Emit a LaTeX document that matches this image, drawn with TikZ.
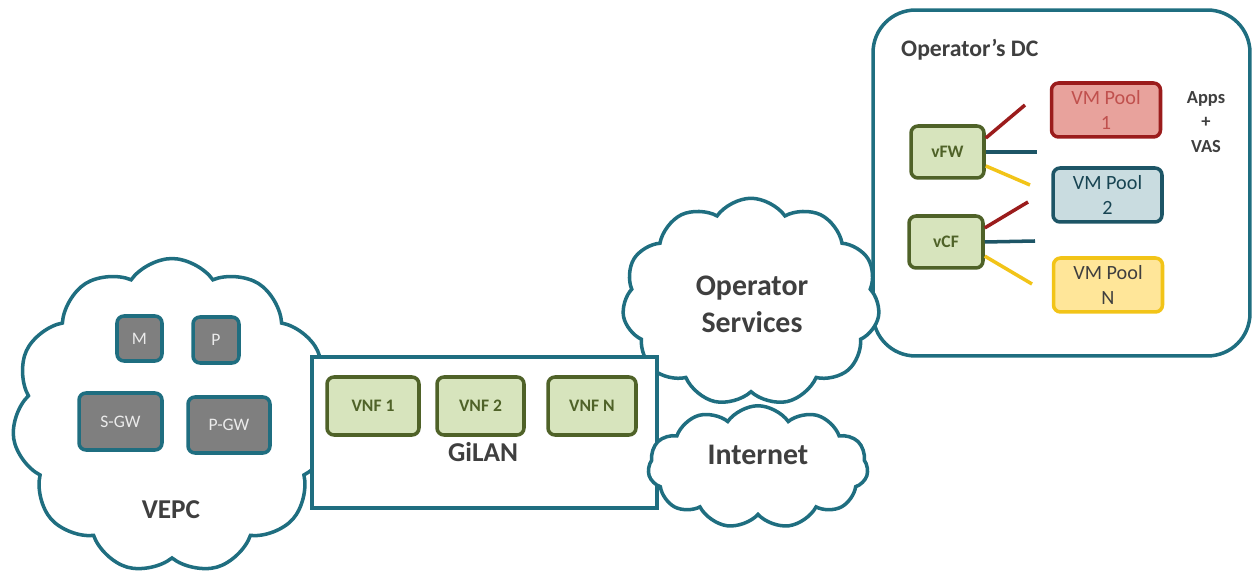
\documentclass[tikz,border=0pt]{standalone}
\usepackage{fontspec}
\setmainfont{Carlito}
\usetikzlibrary{shapes.symbols}

\definecolor{dcteal}{HTML}{1F6E80}
\definecolor{darktext}{HTML}{3F3F3F}
\definecolor{vnfline}{HTML}{4F6228}
\definecolor{vnfgreen}{HTML}{D7E4BD}
\definecolor{boxgray}{HTML}{7F7F7F}
\definecolor{poolred}{HTML}{E8A29C}
\definecolor{poolredline}{HTML}{9B1C1C}
\definecolor{poolredtext}{HTML}{C0504D}
\definecolor{poolblue}{HTML}{C9DCE0}
\definecolor{poolblueline}{HTML}{1D5566}
\definecolor{poolyellow}{HTML}{FFE699}
\definecolor{poolyellowline}{HTML}{F2C418}

\begin{document}
\begin{tikzpicture}[x=0.02cm,y=-0.02cm,
	cloudbox/.style={cloud,cloud puffs=11,cloud puff arc=110,cloud ignores aspect,draw=dcteal,line width=2pt,fill=white},
	graybox/.style={draw=dcteal,fill=boxgray,line width=2pt,rounded corners=4pt,text=white!92!black,font=\fontsize{10}{12}\selectfont},
	vnfbox/.style={draw=vnfline,fill=vnfgreen,line width=2pt,rounded corners=4pt,text=vnfline,font=\bfseries\fontsize{10}{12}\selectfont,minimum height=1.16cm},
	poolbox/.style={line width=2pt,rounded corners=4pt,minimum width=2.18cm,minimum height=1.08cm,align=center,font=\fontsize{11.5}{14}\selectfont},
	biglabel/.style={text=darktext,font=\bfseries\fontsize{17}{21}\selectfont,align=center},
	midlabel/.style={text=darktext,font=\bfseries\fontsize{15.5}{18}\selectfont}]
	%\draw[help lines] (0,0) grid (1254,580);
	\useasboundingbox (0,0) rectangle (1254,580);

	% VEPC
	\node[cloudbox,minimum width=6.4cm,minimum height=6.3cm] (vepc) at (172,416) {};
	\node[midlabel] (vepclabel) at (171,510) {VEPC};
	\node[graybox,minimum width=0.9cm,minimum height=0.9cm] (mme) at (139.5,338.5) {M};
	\node[graybox,minimum width=0.92cm,minimum height=0.92cm] (pcrf) at (216,340) {P};
	\node[graybox,minimum width=1.66cm,minimum height=1.14cm] (sgw) at (120.5,421.5) {S-GW};
	\node[graybox,minimum width=1.64cm,minimum height=1.12cm] (pgw) at (229,425) {P-GW};

	% Operator's DC
	\node[draw=dcteal,line width=2pt,rounded corners=0.85cm,minimum width=7.54cm,minimum height=6.92cm] (dc) at (1061.5,183) {};
	\node[text=darktext,font=\bfseries\fontsize{13.5}{16}\selectfont,anchor=west] (dclabel) at (895,50) {Operator’s DC};
	\node[text=darktext,font=\bfseries\fontsize{10.5}{14}\selectfont,align=center] (apps) at (1206,122) {Apps\\+\\VAS};

	\node[vnfbox,minimum width=1.46cm,minimum height=1.04cm] (vfw) at (947.5,152) {vFW};
	\node[vnfbox,minimum width=1.48cm,minimum height=1.04cm] (vcf) at (946,242) {vCF};

	\node[poolbox,draw=poolredline,fill=poolred,text=poolredtext] (poola) at (1106,110) {VM Pool\\1};
	\node[poolbox,draw=poolblueline,fill=poolblue,text=poolblueline!80!black] (poolb) at (1107.5,195) {VM Pool\\2};
	\node[poolbox,draw=poolyellowline,fill=poolyellow,text=darktext] (pooln) at (1108,285) {VM Pool\\N};

	% links
	\coordinate (fwr) at (1025,105);
	\coordinate (fwt) at (1037,152);
	\coordinate (fwy) at (1030,185);
	\coordinate (cfr) at (1028,202);
	\coordinate (cft) at (1035,241);
	\coordinate (cfy) at (1032,284);
	\draw[poolredline,line width=2pt] (vfw.20) -- (fwr);
	\draw[poolblueline,line width=2pt] (vfw.east) -- (fwt);
	\draw[poolyellowline,line width=2pt] (vfw.-20) -- (fwy);
	\draw[poolredline,line width=2pt] (vcf.20) -- (cfr);
	\draw[poolblueline,line width=2pt] (vcf.east) -- (cft);
	\draw[poolyellowline,line width=2pt] (vcf.-20) -- (cfy);

	% Operator services
	\node[cloudbox,minimum width=5.15cm,minimum height=4.15cm] (opsrv) at (751,302) {};
	\node[biglabel] (opsrvlabel) at (752,304) {Operator\\Services};

	% GiLAN
	\node[draw=dcteal,fill=white,line width=2pt,minimum width=6.9cm,minimum height=3.02cm] (gilan) at (484.5,432.5) {};
	\node[midlabel] (gilanlabel) at (483,452) {GiLAN};
	\node[vnfbox,minimum width=1.84cm] (vnfa) at (373,406) {VNF 1};
	\node[vnfbox,minimum width=1.74cm] (vnfb) at (480.5,406) {VNF 2};
	\node[vnfbox,minimum width=1.76cm] (vnfn) at (592,406) {VNF N};

	% Internet
	\node[cloudbox,minimum width=4.4cm,minimum height=2.45cm] (inet) at (758,467) {};
	\node[biglabel] (inetlabel) at (758,455) {Internet};

\end{tikzpicture}
\end{document}
